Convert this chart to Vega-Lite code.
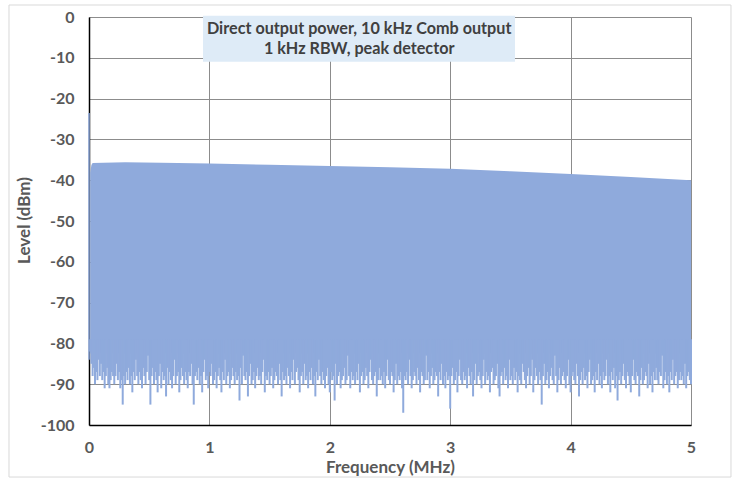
{
"$schema":"https://vega.github.io/schema/vega-lite/v6.json",
"width":602,"height":408,
"autosize":{"type":"none"},
"padding":{"left":89,"top":17,"right":45,"bottom":54},
"background":"white",
"config":{"view":{"stroke":null},"font":"Lato",
 "axis":{"labelFont":"Lato","labelFontWeight":"bold","labelFontSize":16,"labelColor":"#595959","titleFont":"Lato","titleFontWeight":"bold","titleFontSize":17,"titleColor":"#595959","ticks":false,"domainColor":"#000000","domainWidth":1.5,"gridColor":"#8C8C8C","gridWidth":1,"gridOpacity":1},
 "axisX":{"labelPadding":14,"titleBaseline":"middle","titleY":42,"labelFlush":false},
 "axisY":{"labelPadding":15,"titleBaseline":"middle","titleX":-65,"titleY":203,"titleAlign":"center","titleAngle":-90}
},
"datasets":{
"env":[{"f":0.01,"p":-38.2},{"f":0.02,"p":-36.3},{"f":0.03,"p":-35.8},{"f":0.3,"p":-35.6},{"f":0.6,"p":-35.7},{"f":1.0,"p":-35.9},{"f":1.5,"p":-36.2},{"f":2.0,"p":-36.5},{"f":2.5,"p":-36.8},{"f":3.0,"p":-37.2},{"f":3.5,"p":-37.8},{"f":4.0,"p":-38.5},{"f":4.5,"p":-39.2},{"f":5.0,"p":-40.0}],
"comb":[
{"f":0.01,"n":-82},{"f":0.02,"n":-85},{"f":0.03,"n":-88},{"f":0.04,"n":-86},{"f":0.05,"n":-90},{"f":0.06,"n":-87},{"f":0.07,"n":-89},{"f":0.08,"n":-84},{"f":0.09,"n":-88},{"f":0.10,"n":-85},
{"f":0.11,"n":-89},{"f":0.12,"n":-87},{"f":0.13,"n":-91},{"f":0.14,"n":-88},{"f":0.15,"n":-86},{"f":0.16,"n":-90},{"f":0.17,"n":-91},{"f":0.18,"n":-89},{"f":0.19,"n":-87},{"f":0.20,"n":-88},
{"f":0.21,"n":-90},{"f":0.22,"n":-88},{"f":0.23,"n":-85},{"f":0.24,"n":-89},{"f":0.25,"n":-87},{"f":0.26,"n":-91},{"f":0.27,"n":-89},{"f":0.28,"n":-95},{"f":0.29,"n":-88},{"f":0.30,"n":-90},
{"f":0.31,"n":-87},{"f":0.32,"n":-89},{"f":0.33,"n":-86},{"f":0.34,"n":-90},{"f":0.35,"n":-88},{"f":0.36,"n":-92},{"f":0.37,"n":-87},{"f":0.38,"n":-89},{"f":0.39,"n":-84},{"f":0.40,"n":-88},
{"f":0.41,"n":-90},{"f":0.42,"n":-87},{"f":0.43,"n":-89},{"f":0.44,"n":-91},{"f":0.45,"n":-86},{"f":0.46,"n":-88},{"f":0.47,"n":-90},{"f":0.48,"n":-87},{"f":0.49,"n":-83},{"f":0.50,"n":-89},
{"f":0.51,"n":-95},{"f":0.52,"n":-88},{"f":0.53,"n":-86},{"f":0.54,"n":-90},{"f":0.55,"n":-87},{"f":0.56,"n":-89},{"f":0.57,"n":-92},{"f":0.58,"n":-88},{"f":0.59,"n":-85},{"f":0.60,"n":-91},
{"f":0.61,"n":-87},{"f":0.62,"n":-89},{"f":0.63,"n":-88},{"f":0.64,"n":-93},{"f":0.65,"n":-86},{"f":0.66,"n":-90},{"f":0.67,"n":-87},{"f":0.68,"n":-89},{"f":0.69,"n":-91},{"f":0.70,"n":-88},
{"f":0.71,"n":-84},{"f":0.72,"n":-90},{"f":0.73,"n":-88},{"f":0.74,"n":-87},{"f":0.75,"n":-92},{"f":0.76,"n":-89},{"f":0.77,"n":-86},{"f":0.78,"n":-88},{"f":0.79,"n":-90},{"f":0.80,"n":-87},
{"f":0.81,"n":-89},{"f":0.82,"n":-91},{"f":0.83,"n":-87},{"f":0.84,"n":-88},{"f":0.85,"n":-85},{"f":0.86,"n":-90},{"f":0.87,"n":-95},{"f":0.88,"n":-88},{"f":0.89,"n":-87},{"f":0.90,"n":-89},
{"f":0.91,"n":-86},{"f":0.92,"n":-90},{"f":0.93,"n":-88},{"f":0.94,"n":-92},{"f":0.95,"n":-87},{"f":0.96,"n":-84},{"f":0.97,"n":-89},{"f":0.98,"n":-88},{"f":0.99,"n":-91},{"f":1.00,"n":-87},
{"f":1.01,"n":-88},{"f":1.02,"n":-85},{"f":1.03,"n":-90},{"f":1.04,"n":-89},{"f":1.05,"n":-87},{"f":1.06,"n":-91},{"f":1.07,"n":-88},{"f":1.08,"n":-86},{"f":1.09,"n":-89},{"f":1.10,"n":-92},
{"f":1.11,"n":-87},{"f":1.12,"n":-89},{"f":1.13,"n":-84},{"f":1.14,"n":-90},{"f":1.15,"n":-88},{"f":1.16,"n":-87},{"f":1.17,"n":-91},{"f":1.18,"n":-89},{"f":1.19,"n":-86},{"f":1.20,"n":-88},
{"f":1.21,"n":-90},{"f":1.22,"n":-87},{"f":1.23,"n":-89},{"f":1.24,"n":-88},{"f":1.25,"n":-94},{"f":1.26,"n":-86},{"f":1.27,"n":-90},{"f":1.28,"n":-83},{"f":1.29,"n":-88},{"f":1.30,"n":-89},
{"f":1.31,"n":-87},{"f":1.32,"n":-93},{"f":1.33,"n":-88},{"f":1.34,"n":-85},{"f":1.35,"n":-90},{"f":1.36,"n":-89},{"f":1.37,"n":-87},{"f":1.38,"n":-91},{"f":1.39,"n":-88},{"f":1.40,"n":-86},
{"f":1.41,"n":-89},{"f":1.42,"n":-88},{"f":1.43,"n":-90},{"f":1.44,"n":-87},{"f":1.45,"n":-84},{"f":1.46,"n":-92},{"f":1.47,"n":-88},{"f":1.48,"n":-89},{"f":1.49,"n":-87},{"f":1.50,"n":-90},
{"f":1.51,"n":-88},{"f":1.52,"n":-86},{"f":1.53,"n":-91},{"f":1.54,"n":-89},{"f":1.55,"n":-87},{"f":1.56,"n":-88},{"f":1.57,"n":-90},{"f":1.58,"n":-85},{"f":1.59,"n":-89},{"f":1.60,"n":-93},
{"f":1.61,"n":-87},{"f":1.62,"n":-89},{"f":1.63,"n":-88},{"f":1.64,"n":-90},{"f":1.65,"n":-86},{"f":1.66,"n":-88},{"f":1.67,"n":-91},{"f":1.68,"n":-87},{"f":1.69,"n":-89},{"f":1.70,"n":-84},
{"f":1.71,"n":-90},{"f":1.72,"n":-87},{"f":1.73,"n":-86},{"f":1.74,"n":-89},{"f":1.75,"n":-92},{"f":1.76,"n":-88},{"f":1.77,"n":-87},{"f":1.78,"n":-90},{"f":1.79,"n":-85},{"f":1.80,"n":-89},
{"f":1.81,"n":-88},{"f":1.82,"n":-91},{"f":1.83,"n":-87},{"f":1.84,"n":-89},{"f":1.85,"n":-86},{"f":1.86,"n":-90},{"f":1.87,"n":-88},{"f":1.88,"n":-93},{"f":1.89,"n":-87},{"f":1.90,"n":-89},
{"f":1.91,"n":-84},{"f":1.92,"n":-88},{"f":1.93,"n":-90},{"f":1.94,"n":-87},{"f":1.95,"n":-89},{"f":1.96,"n":-91},{"f":1.97,"n":-88},{"f":1.98,"n":-86},{"f":1.99,"n":-90},{"f":2.00,"n":-92},
{"f":2.01,"n":-87},{"f":2.02,"n":-89},{"f":2.03,"n":-88},{"f":2.04,"n":-94},{"f":2.05,"n":-85},{"f":2.06,"n":-90},{"f":2.07,"n":-88},{"f":2.08,"n":-87},{"f":2.09,"n":-91},{"f":2.10,"n":-89},
{"f":2.11,"n":-88},{"f":2.12,"n":-86},{"f":2.13,"n":-90},{"f":2.14,"n":-89},{"f":2.15,"n":-83},{"f":2.16,"n":-88},{"f":2.17,"n":-91},{"f":2.18,"n":-87},{"f":2.19,"n":-89},{"f":2.20,"n":-88},
{"f":2.21,"n":-90},{"f":2.22,"n":-87},{"f":2.23,"n":-89},{"f":2.24,"n":-85},{"f":2.25,"n":-92},{"f":2.26,"n":-88},{"f":2.27,"n":-87},{"f":2.28,"n":-90},{"f":2.29,"n":-89},{"f":2.30,"n":-86},
{"f":2.31,"n":-88},{"f":2.32,"n":-91},{"f":2.33,"n":-87},{"f":2.34,"n":-84},{"f":2.35,"n":-89},{"f":2.36,"n":-90},{"f":2.37,"n":-88},{"f":2.38,"n":-87},{"f":2.39,"n":-93},{"f":2.40,"n":-89},
{"f":2.41,"n":-86},{"f":2.42,"n":-89},{"f":2.43,"n":-88},{"f":2.44,"n":-90},{"f":2.45,"n":-87},{"f":2.46,"n":-91},{"f":2.47,"n":-88},{"f":2.48,"n":-84},{"f":2.49,"n":-89},{"f":2.50,"n":-90},
{"f":2.51,"n":-87},{"f":2.52,"n":-88},{"f":2.53,"n":-92},{"f":2.54,"n":-89},{"f":2.55,"n":-85},{"f":2.56,"n":-90},{"f":2.57,"n":-88},{"f":2.58,"n":-89},{"f":2.59,"n":-87},{"f":2.60,"n":-91},
{"f":2.61,"n":-97},{"f":2.62,"n":-88},{"f":2.63,"n":-89},{"f":2.64,"n":-87},{"f":2.65,"n":-90},{"f":2.66,"n":-84},{"f":2.67,"n":-88},{"f":2.68,"n":-91},{"f":2.69,"n":-89},{"f":2.70,"n":-87},
{"f":2.71,"n":-88},{"f":2.72,"n":-90},{"f":2.73,"n":-86},{"f":2.74,"n":-89},{"f":2.75,"n":-92},{"f":2.76,"n":-87},{"f":2.77,"n":-88},{"f":2.78,"n":-90},{"f":2.79,"n":-89},{"f":2.80,"n":-83},
{"f":2.81,"n":-89},{"f":2.82,"n":-87},{"f":2.83,"n":-91},{"f":2.84,"n":-88},{"f":2.85,"n":-86},{"f":2.86,"n":-90},{"f":2.87,"n":-89},{"f":2.88,"n":-87},{"f":2.89,"n":-88},{"f":2.90,"n":-93},
{"f":2.91,"n":-87},{"f":2.92,"n":-89},{"f":2.93,"n":-85},{"f":2.94,"n":-90},{"f":2.95,"n":-88},{"f":2.96,"n":-91},{"f":2.97,"n":-87},{"f":2.98,"n":-89},{"f":2.99,"n":-88},{"f":3.00,"n":-96},
{"f":3.01,"n":-88},{"f":3.02,"n":-86},{"f":3.03,"n":-90},{"f":3.04,"n":-89},{"f":3.05,"n":-87},{"f":3.06,"n":-92},{"f":3.07,"n":-88},{"f":3.08,"n":-84},{"f":3.09,"n":-89},{"f":3.10,"n":-90},
{"f":3.11,"n":-87},{"f":3.12,"n":-89},{"f":3.13,"n":-88},{"f":3.14,"n":-91},{"f":3.15,"n":-86},{"f":3.16,"n":-88},{"f":3.17,"n":-90},{"f":3.18,"n":-87},{"f":3.19,"n":-93},{"f":3.20,"n":-89},
{"f":3.21,"n":-85},{"f":3.22,"n":-90},{"f":3.23,"n":-88},{"f":3.24,"n":-87},{"f":3.25,"n":-89},{"f":3.26,"n":-91},{"f":3.27,"n":-88},{"f":3.28,"n":-84},{"f":3.29,"n":-90},{"f":3.30,"n":-87},
{"f":3.31,"n":-89},{"f":3.32,"n":-88},{"f":3.33,"n":-92},{"f":3.34,"n":-87},{"f":3.35,"n":-86},{"f":3.36,"n":-90},{"f":3.37,"n":-89},{"f":3.38,"n":-88},{"f":3.39,"n":-85},{"f":3.40,"n":-91},
{"f":3.41,"n":-93},{"f":3.42,"n":-88},{"f":3.43,"n":-87},{"f":3.44,"n":-90},{"f":3.45,"n":-86},{"f":3.46,"n":-89},{"f":3.47,"n":-88},{"f":3.48,"n":-91},{"f":3.49,"n":-84},{"f":3.50,"n":-89},
{"f":3.51,"n":-88},{"f":3.52,"n":-90},{"f":3.53,"n":-86},{"f":3.54,"n":-89},{"f":3.55,"n":-87},{"f":3.56,"n":-92},{"f":3.57,"n":-88},{"f":3.58,"n":-89},{"f":3.59,"n":-90},{"f":3.60,"n":-85},
{"f":3.61,"n":-87},{"f":3.62,"n":-89},{"f":3.63,"n":-91},{"f":3.64,"n":-88},{"f":3.65,"n":-86},{"f":3.66,"n":-90},{"f":3.67,"n":-88},{"f":3.68,"n":-84},{"f":3.69,"n":-92},{"f":3.70,"n":-89},
{"f":3.71,"n":-86},{"f":3.72,"n":-88},{"f":3.73,"n":-90},{"f":3.74,"n":-87},{"f":3.75,"n":-89},{"f":3.76,"n":-95},{"f":3.77,"n":-88},{"f":3.78,"n":-85},{"f":3.79,"n":-90},{"f":3.80,"n":-89},
{"f":3.81,"n":-87},{"f":3.82,"n":-91},{"f":3.83,"n":-88},{"f":3.84,"n":-86},{"f":3.85,"n":-89},{"f":3.86,"n":-90},{"f":3.87,"n":-83},{"f":3.88,"n":-88},{"f":3.89,"n":-92},{"f":3.90,"n":-89},
{"f":3.91,"n":-86},{"f":3.92,"n":-90},{"f":3.93,"n":-88},{"f":3.94,"n":-87},{"f":3.95,"n":-89},{"f":3.96,"n":-91},{"f":3.97,"n":-88},{"f":3.98,"n":-84},{"f":3.99,"n":-90},{"f":4.00,"n":-92},
{"f":4.01,"n":-88},{"f":4.02,"n":-87},{"f":4.03,"n":-89},{"f":4.04,"n":-90},{"f":4.05,"n":-85},{"f":4.06,"n":-88},{"f":4.07,"n":-93},{"f":4.08,"n":-89},{"f":4.09,"n":-87},{"f":4.10,"n":-90},
{"f":4.11,"n":-86},{"f":4.12,"n":-89},{"f":4.13,"n":-88},{"f":4.14,"n":-91},{"f":4.15,"n":-87},{"f":4.16,"n":-84},{"f":4.17,"n":-90},{"f":4.18,"n":-89},{"f":4.19,"n":-88},{"f":4.20,"n":-92},
{"f":4.21,"n":-87},{"f":4.22,"n":-89},{"f":4.23,"n":-85},{"f":4.24,"n":-90},{"f":4.25,"n":-88},{"f":4.26,"n":-91},{"f":4.27,"n":-87},{"f":4.28,"n":-89},{"f":4.29,"n":-88},{"f":4.30,"n":-84},
{"f":4.31,"n":-90},{"f":4.32,"n":-88},{"f":4.33,"n":-92},{"f":4.34,"n":-87},{"f":4.35,"n":-89},{"f":4.36,"n":-86},{"f":4.37,"n":-91},{"f":4.38,"n":-88},{"f":4.39,"n":-94},{"f":4.40,"n":-89},
{"f":4.41,"n":-87},{"f":4.42,"n":-90},{"f":4.43,"n":-88},{"f":4.44,"n":-85},{"f":4.45,"n":-89},{"f":4.46,"n":-91},{"f":4.47,"n":-87},{"f":4.48,"n":-88},{"f":4.49,"n":-90},{"f":4.50,"n":-92},
{"f":4.51,"n":-88},{"f":4.52,"n":-84},{"f":4.53,"n":-89},{"f":4.54,"n":-90},{"f":4.55,"n":-87},{"f":4.56,"n":-88},{"f":4.57,"n":-93},{"f":4.58,"n":-89},{"f":4.59,"n":-86},{"f":4.60,"n":-90},
{"f":4.61,"n":-89},{"f":4.62,"n":-87},{"f":4.63,"n":-88},{"f":4.64,"n":-91},{"f":4.65,"n":-85},{"f":4.66,"n":-90},{"f":4.67,"n":-88},{"f":4.68,"n":-92},{"f":4.69,"n":-87},{"f":4.70,"n":-89},
{"f":4.71,"n":-86},{"f":4.72,"n":-89},{"f":4.73,"n":-90},{"f":4.74,"n":-87},{"f":4.75,"n":-88},{"f":4.76,"n":-83},{"f":4.77,"n":-91},{"f":4.78,"n":-89},{"f":4.79,"n":-87},{"f":4.80,"n":-90},
{"f":4.81,"n":-88},{"f":4.82,"n":-92},{"f":4.83,"n":-87},{"f":4.84,"n":-89},{"f":4.85,"n":-84},{"f":4.86,"n":-90},{"f":4.87,"n":-88},{"f":4.88,"n":-87},{"f":4.89,"n":-91},{"f":4.90,"n":-89},
{"f":4.91,"n":-87},{"f":4.92,"n":-89},{"f":4.93,"n":-88},{"f":4.94,"n":-90},{"f":4.95,"n":-85},{"f":4.96,"n":-91},{"f":4.97,"n":-88},{"f":4.98,"n":-87},{"f":4.99,"n":-89},{"f":5.00,"n":-90}
]
},
"layer":[
{"data":{"name":"env"},"mark":{"type":"area","color":"#8FAADC"},
 "encoding":{
  "x":{"field":"f","type":"quantitative","scale":{"domain":[0,5],"nice":false,"zero":false},"title":"Frequency (MHz)","axis":{"tickCount":5,"labelExpr":"'' + datum.value","grid":true}},
  "y":{"field":"p","type":"quantitative","scale":{"domain":[-100,0],"nice":false,"zero":false},"title":"Level (dBm)","axis":{"tickCount":10,"labelExpr":"'' + datum.value","grid":true}},
  "y2":{"datum":-82.5}}},
{"data":{"name":"comb"},"mark":{"type":"rule","color":"#8FAADC","strokeWidth":2},
 "encoding":{
  "x":{"field":"f","type":"quantitative","scale":{"domain":[0,5],"nice":false,"zero":false},"title":"Frequency (MHz)"},
  "y":{"field":"n","type":"quantitative","scale":{"domain":[-100,0],"nice":false,"zero":false},"title":"Level (dBm)"},
  "y2":{"datum":-79}}},
{"data":{"values":[{"f":0,"top":-23.5,"bot":-84}]},"mark":{"type":"rule","color":"#8FAADC","strokeWidth":1.5},
 "encoding":{
  "x":{"field":"f","type":"quantitative","scale":{"domain":[0,5],"nice":false,"zero":false},"title":"Frequency (MHz)"},
  "y":{"field":"top","type":"quantitative","scale":{"domain":[-100,0],"nice":false,"zero":false},"title":"Level (dBm)"},
  "y2":{"field":"bot"}}},
{"data":{"values":[{}]},"mark":{"type":"rect","fill":"#DEEBF7"},
 "encoding":{
  "x":{"datum":0.947,"type":"quantitative","scale":{"domain":[0,5],"nice":false,"zero":false},"title":"Frequency (MHz)"},
  "x2":{"datum":3.538},
  "y":{"datum":0.32,"type":"quantitative","scale":{"domain":[-100,0],"nice":false,"zero":false},"title":"Level (dBm)"},
  "y2":{"datum":-10.96}}},
{"data":{"values":[{}]},"mark":{"type":"text","text":["Direct output power, 10 kHz Comb output","1 kHz RBW, peak detector"],"font":"Lato","fontWeight":"bold","fontSize":16.2,"color":"#404040","align":"center","baseline":"alphabetic","lineHeight":20},
 "encoding":{
  "x":{"datum":2.244,"type":"quantitative","scale":{"domain":[0,5],"nice":false,"zero":false},"title":"Frequency (MHz)"},
  "y":{"datum":-4.17,"type":"quantitative","scale":{"domain":[-100,0],"nice":false,"zero":false},"title":"Level (dBm)"}}},
{"data":{"values":[{}]},"mark":{"type":"rect","fill":null,"stroke":"#D9D9D9","strokeWidth":1},
 "encoding":{
  "x":{"datum":-0.6645,"type":"quantitative","scale":{"domain":[0,5],"nice":false,"zero":false},"title":"Frequency (MHz)"},
  "x2":{"datum":5.332},
  "y":{"datum":2.94,"type":"quantitative","scale":{"domain":[-100,0],"nice":false,"zero":false},"title":"Level (dBm)"},
  "y2":{"datum":-112.75}}}
]
}
